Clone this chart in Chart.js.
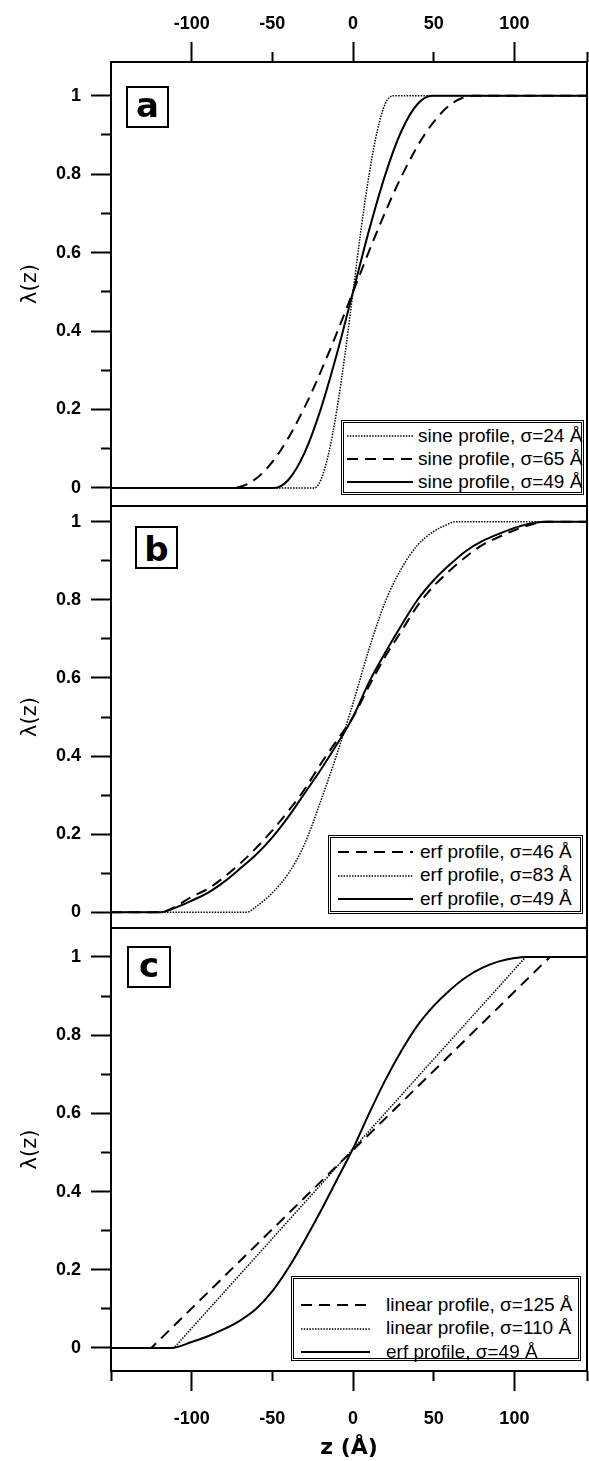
<!DOCTYPE html>
<html>
<head>
<meta charset="utf-8">
<script src="https://cdn.jsdelivr.net/npm/chart.js@4/dist/chart.umd.min.js"></script>
<style>
  html, body { margin: 0; padding: 0; background: #fff; }
  #wrap { position: relative; width: 589px; height: 1461px; overflow: hidden; background: #fff; }
  canvas { position: absolute; left: 0; }
  .lab { position: absolute; box-sizing: border-box; border: 2px solid #000; background: #fff;
         display: flex; align-items: center; justify-content: center;
         font: bold 34px 'DejaVu Sans'; color: #000; }
  .lab span { position: relative; }
  .leg { position: absolute; box-sizing: border-box; border: 3px double #000; background: #fff; }
  .txt { position: absolute; height: 23px; line-height: 23px; font: 19px 'Liberation Sans'; color: #000; white-space: nowrap; }
  .smp { position: absolute; overflow: visible; }
</style>
</head>
<body>
<div id="wrap">
  <canvas id="ca" width="589" height="520" style="top:0px;width:589px;height:520px"></canvas>
  <canvas id="cb" width="589" height="450" style="top:492px;width:589px;height:450px"></canvas>
  <canvas id="cc" width="589" height="547" style="top:914px;width:589px;height:547px"></canvas>
</div>
<script>
// ---------------- data ----------------
const zTickValues = [-150, -100, -50, 0, 50, 100, 145];
const zTickLabels = ['-100', '-50', '0', '50', '100'];
const lamTickValues = [0, 0.1, 0.2, 0.3, 0.4, 0.5, 0.6, 0.7, 0.8, 0.9, 1];
const lamTickLabels = ['0', '0.2', '0.4', '0.6', '0.8', '1'];

// panel a : sine profiles
const aNames = ['sine profile, σ=24 Å', 'sine profile, σ=65 Å', 'sine profile, σ=49 Å'];
const aZ24 = [-150, -24, -20, -15, -10, -5, 0, 5, 10, 15, 20, 25, 145];
const aL24 = [0, 0, 0.02, 0.09, 0.20, 0.34, 0.50, 0.66, 0.80, 0.91, 0.98, 1, 1];
const aZ65 = [-150, -75, -60, -45, -30, -15, 0, 15, 30, 45, 60, 75, 145];
const aL65 = [0, 0, 0.024, 0.095, 0.206, 0.345, 0.50, 0.655, 0.794, 0.905, 0.976, 1, 1];
const aZ49 = [-150, -49, -40, -30, -20, -10, 0, 10, 20, 30, 40, 49, 145];
const aL49 = [0, 0, 0.021, 0.09, 0.201, 0.342, 0.50, 0.658, 0.799, 0.91, 0.979, 1, 1];

// panel b : erf profiles
const bNames = ['erf profile, σ=46 Å', 'erf profile, σ=83 Å', 'erf profile, σ=49 Å'];
const bZ46 = [-150, -120, -110, -100, -90, -80, -70, -60, -50, -40, -30, -20, -10, 0, 10, 20, 30, 40, 50, 60, 70, 80, 90, 100, 110, 120, 145];
const bL46 = [0, 0, 0.015, 0.04, 0.06, 0.09, 0.125, 0.165, 0.21, 0.26, 0.315, 0.38, 0.44, 0.50, 0.58, 0.655, 0.72, 0.785, 0.835, 0.875, 0.91, 0.94, 0.96, 0.978, 0.992, 1, 1];
const bZ83 = [-150, -66, -60, -50, -40, -30, -20, -10, 0, 10, 20, 30, 40, 50, 57, 64, 145];
const bL83 = [0, 0, 0.015, 0.05, 0.10, 0.175, 0.285, 0.405, 0.535, 0.675, 0.795, 0.88, 0.94, 0.975, 0.99, 1, 1];
const bZ49 = [-150, -120, -110, -100, -90, -80, -70, -60, -50, -40, -30, -20, -10, 0, 10, 20, 30, 40, 50, 60, 70, 80, 90, 100, 110, 118, 145];
const bL49 = [0, 0, 0.012, 0.03, 0.05, 0.078, 0.112, 0.148, 0.192, 0.245, 0.305, 0.365, 0.43, 0.50, 0.59, 0.665, 0.735, 0.80, 0.85, 0.89, 0.925, 0.95, 0.968, 0.984, 0.995, 1, 1];

// panel c : linear profiles vs erf
const cNames = ['linear profile, σ=125 Å', 'linear profile, σ=110 Å', 'erf profile, σ=49 Å'];
const cZ125 = [-150, -125, 122, 145];
const cL125 = [0, 0, 1, 1];
const cZ110 = [-150, -111, 107, 145];
const cL110 = [0, 0, 1, 1];
const cZ49 = [-150, -113, -100, -90, -80, -70, -60, -50, -40, -30, -20, -10, 0, 10, 20, 30, 40, 50, 60, 70, 80, 90, 100, 107, 145];
const cL49 = [0, 0, 0.015, 0.03, 0.048, 0.07, 0.10, 0.145, 0.205, 0.275, 0.35, 0.43, 0.51, 0.60, 0.685, 0.76, 0.825, 0.875, 0.915, 0.948, 0.972, 0.988, 0.997, 1, 1];

// ---------------- styles ----------------
const STY = {
  solid:  { borderWidth: 2,   borderDash: [] },
  dashed: { borderWidth: 2,   borderDash: [11, 7] },
  dotted: { borderWidth: 1.5, borderDash: [1.5, 1.3] }
};
const FONT = 'DejaVu Sans';
const TICKFONT = { family: 'Liberation Sans', size: 18, weight: 'bold' };

function zip(z, l) { return z.map((v, i) => ({ x: v, y: l[i] })); }
function ds(label, z, l, style, smooth) {
  const o = { label, data: zip(z, l), borderColor: '#000', backgroundColor: '#000',
              pointRadius: 0, fill: false, borderCapStyle: 'butt' };
  Object.assign(o, STY[style]);
  if (smooth) o.cubicInterpolationMode = 'monotone'; else o.tension = 0;
  return o;
}

const framePlugin = {
  id: 'frame',
  afterDraw(chart) {
    const { ctx, chartArea: a } = chart;
    ctx.save();
    ctx.strokeStyle = '#000';
    ctx.lineWidth = 2;
    ctx.strokeRect(a.left, a.top, a.right - a.left, a.bottom - a.top);
    ctx.restore();
  }
};

function noPad(s) { s.paddingLeft = 0; s.paddingRight = 0; s.paddingTop = 0; s.paddingBottom = 0; }
function isMajorZ(c) { return c.tick && Math.abs(c.tick.value) % 100 === 0; }
function isMajorL(c) { return c.tick && Math.round(c.tick.value * 10) % 2 === 0; }

function xScale(pos, h) {
  return {
    type: 'linear', min: -150, max: 145,
    position: pos || 'bottom', display: !!pos,
    afterFit: s => { s.height = h; noPad(s); },
    afterBuildTicks: s => { s.ticks = zTickValues.map(v => ({ value: v })); },
    ticks: {
      autoSkip: false, maxRotation: 0, minRotation: 0,
      padding: pos === 'top' ? 7 : 17, color: '#000',
      font: TICKFONT,
      callback: v => zTickLabels.includes(String(v)) ? String(v) : ''
    },
    grid: {
      drawOnChartArea: false, drawTicks: true, tickLength: 20, tickWidth: 2, color: '#000',
      tickColor: c => (pos === 'top' && c.tick && c.tick.value === -150) ? 'rgba(0,0,0,0)' : '#000',
      tickBorderDash: c => isMajorZ(c) ? [] : [10, 10],
      tickBorderDashOffset: pos === 'top' ? 10 : 0
    },
    border: { display: false },
    title: pos === 'bottom'
      ? { display: true, text: 'z (Å)', color: '#000', font: { family: FONT, size: 22, weight: 'bold' }, padding: { top: 0, bottom: 0 } }
      : { display: false }
  };
}

function yScale(min, max) {
  return {
    type: 'linear', min, max, position: 'left',
    afterFit: s => { s.width = 111; noPad(s); },
    afterBuildTicks: s => { s.ticks = lamTickValues.map(v => ({ value: v })); },
    ticks: {
      autoSkip: false, padding: 10, color: '#000',
      font: TICKFONT,
      callback: v => { const s = String(Math.round(v * 10) / 10); return lamTickLabels.includes(s) ? s : ''; }
    },
    grid: {
      drawOnChartArea: false, drawTicks: true, tickLength: 20, tickWidth: 2, color: '#000',
      tickBorderDash: c => isMajorL(c) ? [] : [10, 10],
      tickBorderDashOffset: 10
    },
    border: { display: false },
    title: { display: true, text: 'λ(z)', color: '#000', font: { family: FONT, size: 21 }, padding: { top: 18, bottom: 0 } }
  };
}

function makeChart(id, datasets, ymin, ymax, xpos, xh, pad) {
  return new Chart(document.getElementById(id), {
    type: 'line',
    data: { datasets },
    options: {
      responsive: false, animation: false, devicePixelRatio: 1,
      layout: { padding: pad },
      plugins: { legend: { display: false }, tooltip: { enabled: false } },
      scales: { x: xScale(xpos, xh), y: yScale(ymin, ymax) }
    },
    plugins: [framePlugin]
  });
}

makeChart('ca', [
  ds(aNames[0], aZ24, aL24, 'dotted', true),
  ds(aNames[1], aZ65, aL65, 'dashed', true),
  ds(aNames[2], aZ49, aL49, 'solid', true)
], -0.046, 1.086, 'top', 62, { left: 0, right: 2, top: 0, bottom: 14 });

makeChart('cb', [
  ds(bNames[0], bZ46, bL46, 'dashed', true),
  ds(bNames[1], bZ83, bL83, 'dotted', true),
  ds(bNames[2], bZ49, bL49, 'solid', true)
], -0.040, 1.040, null, 0, { left: 0, right: 2, top: 14, bottom: 14 });

makeChart('cc', [
  ds(cNames[0], cZ125, cL125, 'dashed', false),
  ds(cNames[1], cZ110, cL110, 'dotted', false),
  ds(cNames[2], cZ49, cL49, 'solid', true)
], -0.059, 1.074, 'bottom', 90, { left: 0, right: 2, top: 14, bottom: 0 });

// ---------------- overlays: panel letters + legends ----------------
const wrap = document.getElementById('wrap');
function panelLabel(text, left, top, w, h, dy) {
  const d = document.createElement('div');
  d.className = 'lab';
  Object.assign(d.style, { left: left + 'px', top: top + 'px', width: w + 'px', height: h + 'px' });
  const s = document.createElement('span');
  s.textContent = text;
  s.style.top = dy + 'px';
  d.appendChild(s);
  wrap.appendChild(d);
}
panelLabel('a', 126, 86, 43, 42, -2);
panelLabel('b', 135, 526, 43, 43, 1);
panelLabel('c', 127, 946, 44, 42, -2);

function legend(box, names, styles, rowsY, sx1, sx2, tx) {
  const d = document.createElement('div');
  d.className = 'leg';
  Object.assign(d.style, { left: box[0] + 'px', top: box[1] + 'px', width: box[2] + 'px', height: box[3] + 'px' });
  wrap.appendChild(d);
  names.forEach((name, i) => {
    const y = rowsY[i];
    const st = STY[styles[i]];
    const svg = document.createElementNS('http://www.w3.org/2000/svg', 'svg');
    svg.setAttribute('class', 'smp');
    svg.setAttribute('width', sx2 - sx1);
    svg.setAttribute('height', 6);
    svg.style.left = sx1 + 'px';
    svg.style.top = (y - 3) + 'px';
    const ln = document.createElementNS('http://www.w3.org/2000/svg', 'line');
    ln.setAttribute('x1', 0); ln.setAttribute('x2', sx2 - sx1);
    ln.setAttribute('y1', 3); ln.setAttribute('y2', 3);
    ln.setAttribute('stroke', '#000');
    ln.setAttribute('stroke-width', st.borderWidth);
    if (st.borderDash.length) ln.setAttribute('stroke-dasharray', st.borderDash.join(' '));
    svg.appendChild(ln);
    wrap.appendChild(svg);
    const t = document.createElement('div');
    t.className = 'txt';
    t.textContent = name;
    t.style.left = tx + 'px';
    t.style.top = (y - 11.5) + 'px';
    wrap.appendChild(t);
  });
}
legend([341, 420, 243, 75], aNames, ['dotted', 'dashed', 'solid'], [436, 459, 482], 347, 413, 418);
legend([328, 835, 255, 79], bNames, ['dashed', 'dotted', 'solid'], [852, 875.5, 899], 338, 413, 420);
legend([291, 1276, 290, 85], cNames, ['dashed', 'dotted', 'solid'], [1305, 1328.5, 1352], 301, 370, 386);
</script>
</body>
</html>
